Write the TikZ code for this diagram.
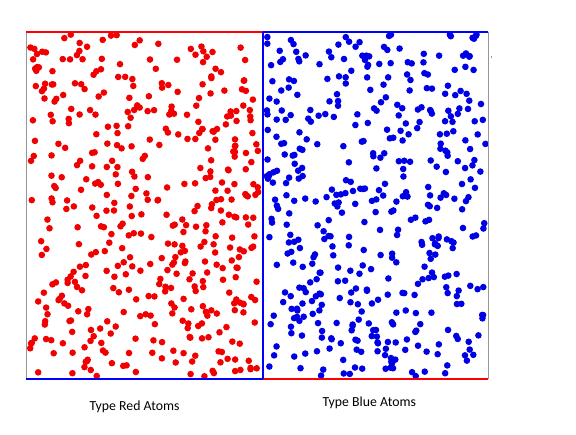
\documentclass[tikz,border=0pt]{standalone}
\usepackage{fontspec}
\setmainfont{Carlito}
\definecolor{atomred}{RGB}{240,0,0}
\definecolor{atomblue}{RGB}{0,0,230}
\definecolor{edgegray}{RGB}{150,150,150}
\begin{document}
\begin{tikzpicture}[x=1pt,y=-1pt,
  reddot/.style={fill=atomred},
  bluedot/.style={fill=atomblue},
  redline/.style={draw=red,line width=2pt},
  blueline/.style={draw=blue,line width=2pt},
  grayline/.style={draw=edgegray,line width=1pt},
  label/.style={font=\fontsize{13.8}{16}\selectfont,anchor=base,inner sep=0pt}]
\useasboundingbox[fill=white] (0,0) rectangle (576,435);
\pgfmathsetseed{4711}
\foreach \i in {1,...,455}{
  \pgfmathsetmacro\px{29.5+229*rnd}
  \pgfmathsetmacro\py{34.5+342*rnd}
  \fill[reddot] (\px,\py) circle[radius=3.3pt];
}
\foreach \i in {1,...,455}{
  \pgfmathsetmacro\px{265.5+220*rnd}
  \pgfmathsetmacro\py{34.5+342*rnd}
  \fill[bluedot] (\px,\py) circle[radius=3.3pt];
}
\coordinate (tl) at (26,32);
\coordinate (tm) at (262.5,32);
\coordinate (tr) at (488,32);
\coordinate (bl) at (26,379);
\coordinate (bm) at (262.5,379);
\coordinate (br) at (488,379);
\draw[grayline] (tl) -- (bl);
\draw[grayline] (tr) -- (br);
\draw[redline] (tl) -- (tm);
\draw[blueline] (tm) -- (tr);
\draw[blueline] (bl) -- (bm);
\draw[redline] (bm) -- (br);
\draw[blueline] (tm) -- (bm);
\fill[edgegray] (490.5,56) rectangle (491.5,58.5);
\node[label] (redlabel) at (134.5,410.7) {Type Red Atoms};
\node[label] (bluelabel) at (369.3,406.7) {Type Blue Atoms};
\end{tikzpicture}
\end{document}
